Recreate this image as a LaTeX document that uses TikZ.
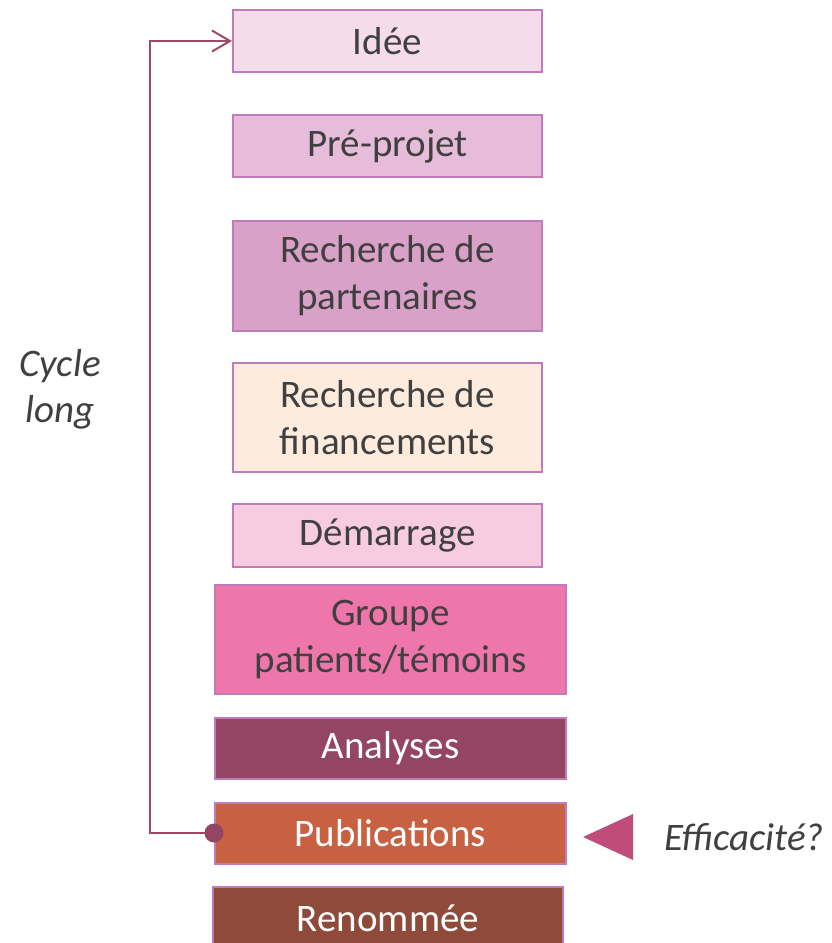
\documentclass[tikz,border=0pt]{standalone}
\usepackage{fontspec}
\setmainfont{Carlito}
\usetikzlibrary{arrows.meta}
\definecolor{txt}{HTML}{404040}
\definecolor{bord}{HTML}{C27BBA}
\definecolor{cIdee}{HTML}{F4DCEB}
\definecolor{cPre}{HTML}{E6BCDA}
\definecolor{cPart}{HTML}{D9A1C8}
\definecolor{cFin}{HTML}{FDEBDD}
\definecolor{cDem}{HTML}{F8CCE0}
\definecolor{cGrp}{HTML}{EE76AB}
\definecolor{cAna}{HTML}{944564}
\definecolor{cPub}{HTML}{C86142}
\definecolor{cRen}{HTML}{8F4A3A}
\definecolor{linec}{HTML}{A04868}
\definecolor{dotc}{HTML}{944564}
\definecolor{tric}{HTML}{C04C7C}
\tikzset{
  stepbox/.style={draw=bord, line width=2pt, inner sep=0pt, align=center,
    text=txt, font=\fontsize{39}{47}\selectfont},
  narrow/.style={stepbox, minimum width=309pt},
  wide/.style={stepbox, minimum width=351pt},
  lighttext/.style={text=white},
  loopline/.style={draw=linec, line width=2pt},
  sidelabel/.style={text=txt, align=center, font=\fontsize{39}{46}\selectfont\itshape}
}
\begin{document}
\begin{tikzpicture}[x=1pt,y=-1pt]
\useasboundingbox (0,0) rectangle (832,943);
\clip (0,0) rectangle (832,943);
\node[narrow, fill=cIdee, minimum height=62pt] (idee) at (387.5,41) {Idée};
\node[narrow, fill=cPre, minimum height=62pt] (pre) at (387.5,146) {Pré-projet};
\node[narrow, fill=cPart, minimum height=110pt] (part) at (387.5,276) {Recherche de\\partenaires};
\node[narrow, fill=cFin, minimum height=109pt] (fin) at (387.5,417.5) {Recherche de\\financements};
\node[narrow, fill=cDem, minimum height=63pt] (dem) at (387.5,535.5) {Démarrage};
\node[wide, fill=cGrp, minimum height=109pt] (grp) at (390.5,639.5) {Groupe\\patients/témoins};
\node[wide, fill=cAna, lighttext, minimum height=61pt] (ana) at (390.5,748.5) {Analyses};
\node[wide, fill=cPub, lighttext, minimum height=61pt] (pub) at (390.5,833) {Publications};
\node[stepbox, minimum width=350pt, fill=cRen, lighttext, minimum height=62pt] (ren) at (388,918) {Renommée};
\coordinate (corner) at (150,833);
\draw[loopline, -{Straight Barb[length=18pt,width=21pt,line width=2pt]}] (pub.west) -- (corner) |- (idee.west);
\fill[dotc] (pub.west) circle (9.5pt);
\fill[tric] (583,837) -- (633,814) -- (633,860) -- cycle;
\node[sidelabel] (eff) at (744,837) {Efficacité?};
\node[sidelabel] (cyc) at (60,389) {Cycle\\long};
\end{tikzpicture}
\end{document}
